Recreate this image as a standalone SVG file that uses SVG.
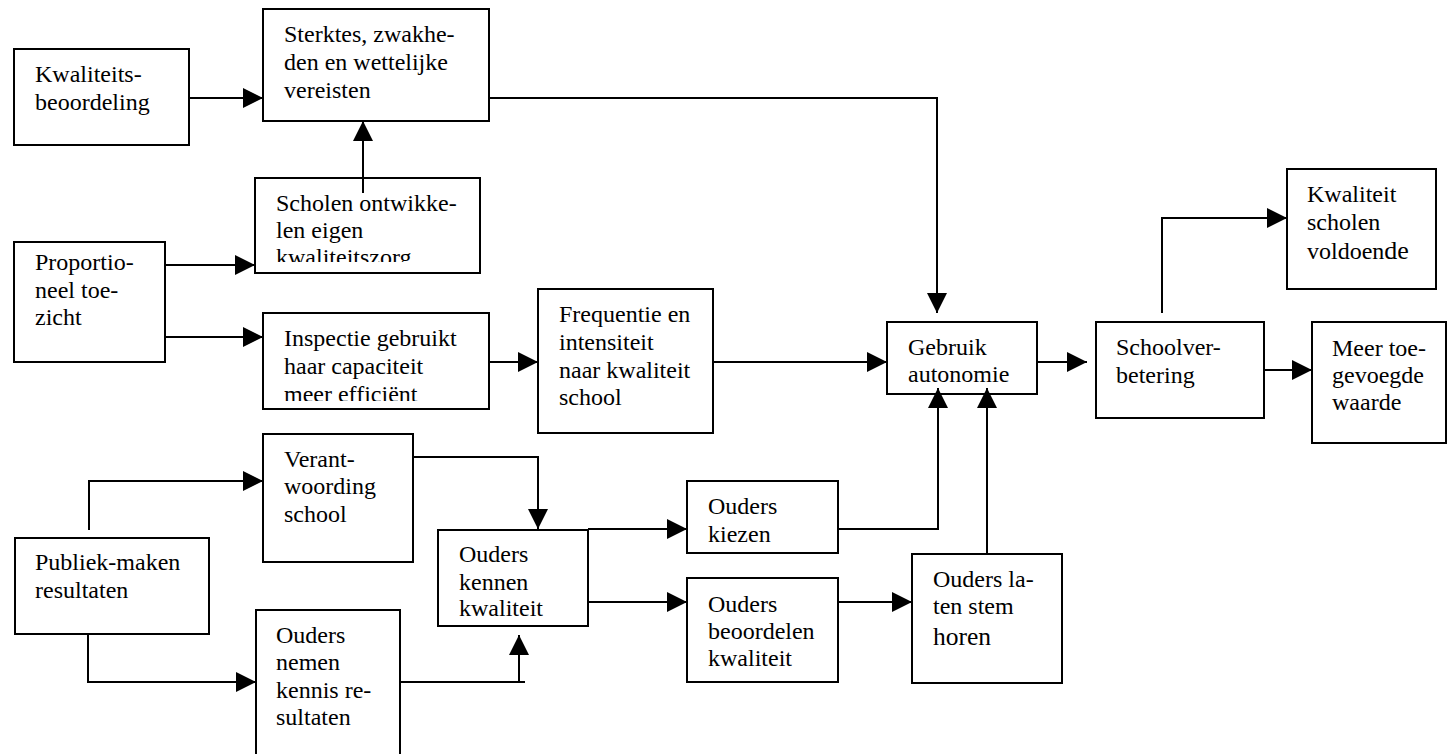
<svg xmlns="http://www.w3.org/2000/svg" width="1448" height="754" viewBox="0 0 1448 754">
<style>
rect.box{fill:#fff;stroke:#000;stroke-width:2}
text{font-family:'Liberation Serif','Tinos','Times New Roman','DejaVu Serif','Noto Serif',serif;font-size:24px;fill:#000}
.c path{fill:none;stroke:#000;stroke-width:2}
</style>
<defs>
<marker id="ah" markerUnits="userSpaceOnUse" markerWidth="20" markerHeight="20" refX="20" refY="10" orient="auto">
<path d="M0,0 L20,10 L0,20 z" fill="#000"/>
</marker>
<clipPath id="clipScholen"><rect x="255" y="178" width="225" height="84"/></clipPath>
<clipPath id="clipInsp"><rect x="263" y="313" width="226" height="88"/></clipPath>
</defs>
<rect width="1448" height="754" fill="#fff"/>

<g id="n-kwaliteitsbeoordeling" font-family="Liberation Serif, Times New Roman, DejaVu Serif, serif"><rect class="box" x="14" y="49" width="175" height="96"/><text x="35"><tspan x="35" y="82">Kwaliteits-</tspan><tspan x="35" y="110">beoordeling</tspan></text></g>
<g id="n-sterktes"><rect class="box" x="263" y="9" width="226" height="112"/><text><tspan x="284" y="42">Sterktes, zwakhe-</tspan><tspan x="284" y="70">den en wettelijke</tspan><tspan x="284" y="98">vereisten</tspan></text></g>
<g id="n-scholen"><rect class="box" x="255" y="178" width="225" height="95"/><text clip-path="url(#clipScholen)"><tspan x="276" y="211">Scholen ontwikke-</tspan><tspan x="276" y="238">len eigen</tspan><tspan x="276" y="265">kwaliteitszorg</tspan></text></g>
<g id="n-proportioneel"><rect class="box" x="14" y="242" width="151" height="120"/><text><tspan x="35" y="270">Proportio-</tspan><tspan x="35" y="298">neel toe-</tspan><tspan x="35" y="325">zicht</tspan></text></g>
<g id="n-inspectie"><rect class="box" x="263" y="313" width="226" height="96"/><text clip-path="url(#clipInsp)"><tspan x="284" y="346">Inspectie gebruikt</tspan><tspan x="284" y="374">haar capaciteit</tspan><tspan x="284" y="402">meer efficiënt</tspan></text></g>
<g id="n-frequentie"><rect class="box" x="538" y="289" width="175" height="144"/><text><tspan x="559" y="322">Frequentie en</tspan><tspan x="559" y="350">intensiteit</tspan><tspan x="559" y="378">naar kwaliteit</tspan><tspan x="559" y="405">school</tspan></text></g>
<g id="n-gebruik"><rect class="box" x="887" y="322" width="150" height="72"/><text><tspan x="908" y="355">Gebruik</tspan><tspan x="908" y="382">autonomie</tspan></text></g>
<g id="n-schoolverbetering"><rect class="box" x="1096" y="322" width="168" height="96"/><text><tspan x="1116" y="355">Schoolver-</tspan><tspan x="1116" y="383">betering</tspan></text></g>
<g id="n-kwaliteitscholen"><rect class="box" x="1287" y="169" width="149" height="120"/><text><tspan x="1307" y="202">Kwaliteit</tspan><tspan x="1307" y="230">scholen</tspan><tspan x="1307" y="259">voldoen<tspan style="font-size:26px">de</tspan></tspan></text></g>
<g id="n-meer"><rect class="box" x="1312" y="322" width="134" height="121"/><text><tspan x="1332" y="356">Meer toe-</tspan><tspan x="1332" y="383">gevoegde</tspan><tspan x="1332" y="410">waarde</tspan></text></g>
<g id="n-verantwoording"><rect class="box" x="263" y="434" width="150" height="128"/><text><tspan x="284" y="467">Verant-</tspan><tspan x="284" y="494">woording</tspan><tspan x="284" y="522">school</tspan></text></g>
<g id="n-publiek"><rect class="box" x="15" y="538" width="194" height="96"/><text><tspan x="35" y="570">Publiek-maken</tspan><tspan x="35" y="598">resultaten</tspan></text></g>
<g id="n-oudersnemen"><rect class="box" x="256" y="610" width="144" height="146"/><text><tspan x="276" y="643">Ouders</tspan><tspan x="276" y="670">nemen</tspan><tspan x="276" y="698">kennis re-</tspan><tspan x="276" y="725">sultaten</tspan></text></g>
<g id="n-ouderskennen"><rect class="box" x="438" y="530" width="150" height="96"/><text><tspan x="459" y="562">Ouders</tspan><tspan x="459" y="590">kennen</tspan><tspan x="459" y="616">kwaliteit</tspan></text></g>
<g id="n-ouderskiezen"><rect class="box" x="687" y="481" width="151" height="72"/><text><tspan x="708" y="514">Ouders</tspan><tspan x="708" y="542">kiezen</tspan></text></g>
<g id="n-oudersbeoordelen"><rect class="box" x="687" y="578" width="151" height="104"/><text><tspan x="708" y="612">Ouders</tspan><tspan x="708" y="639">beoordelen</tspan><tspan x="708" y="666">kwaliteit</tspan></text></g>
<g id="n-ouderslaten"><rect class="box" x="912" y="554" width="150" height="129"/><text><tspan x="933" y="587">Ouders la-</tspan><tspan x="933" y="614">ten stem</tspan><tspan x="933" y="645" style="font-size:25.5px">horen</tspan></text></g>

<g id="connectors" class="c">
<path d="M189,98 H263" marker-end="url(#ah)"/>
<path d="M363,193 V121" marker-end="url(#ah)"/>
<path d="M165,265 H255" marker-end="url(#ah)"/>
<path d="M165,337 H263" marker-end="url(#ah)"/>
<path d="M489,98 H937 V313" marker-end="url(#ah)"/>
<path d="M489,362 H538" marker-end="url(#ah)"/>
<path d="M713,362 H887" marker-end="url(#ah)"/>
<path d="M1037,362 H1087" marker-end="url(#ah)"/>
<path d="M1162,313 V218 H1287" marker-end="url(#ah)"/>
<path d="M1264,370 H1312" marker-end="url(#ah)"/>
<path d="M89,530 V481 H263" marker-end="url(#ah)"/>
<path d="M88,634 V682 H256" marker-end="url(#ah)"/>
<path d="M413,457 H538 V529" marker-end="url(#ah)"/>
<path d="M400,682 H525"/>
<path d="M519,682 V635" marker-end="url(#ah)"/>
<path d="M588,529 H687" marker-end="url(#ah)"/>
<path d="M588,602 H687" marker-end="url(#ah)"/>
<path d="M838,529 H938 V388" marker-end="url(#ah)"/>
<path d="M838,602 H912" marker-end="url(#ah)"/>
<path d="M987,554 V388" marker-end="url(#ah)"/>
</g>
</svg>
